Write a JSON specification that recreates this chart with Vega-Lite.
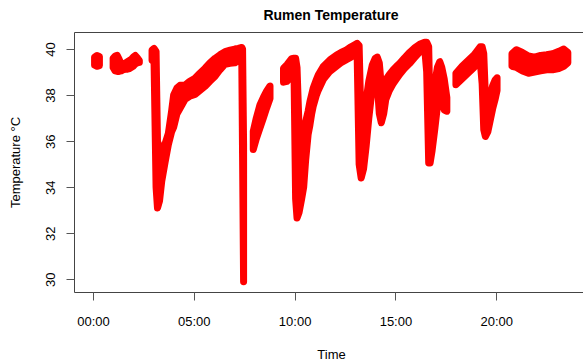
{
  "$schema": "https://vega.github.io/schema/vega-lite/v6.json",
  "width": 514,
  "height": 260,
  "autosize": {"type": "none"},
  "padding": {"left": 74, "top": 32, "right": 0, "bottom": 68},
  "background": "white",
  "title": {"text": "Rumen Temperature", "font": "Liberation Sans", "fontSize": 14, "fontWeight": "bold", "color": "black", "anchor": "middle", "baseline": "alphabetic", "offset": -2, "frame": "group"},
  "config": {
    "view": {"stroke": "#444", "strokeWidth": 1},
    "axis": {"grid": false, "domain": false, "ticks": true, "tickSize": 8, "tickColor": "#555", "labelFont": "Liberation Sans", "labelFontSize": 13, "labelColor": "black", "titleFont": "Liberation Sans", "titleFontSize": 13, "titleFontWeight": "normal", "titleColor": "black", "labelFlush": false, "labelOverlap": false}
  },
  "data": {"values": [
    {"s": 1, "t": 0.08, "lo": 39.3, "hi": 39.65},
    {"s": 1, "t": 0.2, "lo": 39.25, "hi": 39.72},
    {"s": 1, "t": 0.32, "lo": 39.28, "hi": 39.68},
    {"s": 2, "t": 1.0, "lo": 39.2, "hi": 39.6},
    {"s": 2, "t": 1.1, "lo": 39.05, "hi": 39.7},
    {"s": 2, "t": 1.2, "lo": 39.03, "hi": 39.73},
    {"s": 2, "t": 1.3, "lo": 39.03, "hi": 39.55},
    {"s": 2, "t": 1.4, "lo": 39.05, "hi": 39.35},
    {"s": 2, "t": 1.5, "lo": 39.1, "hi": 39.3},
    {"s": 2, "t": 1.6, "lo": 39.12, "hi": 39.38},
    {"s": 2, "t": 1.7, "lo": 39.12, "hi": 39.45},
    {"s": 2, "t": 1.8, "lo": 39.15, "hi": 39.5},
    {"s": 2, "t": 1.9, "lo": 39.2, "hi": 39.55},
    {"s": 2, "t": 2.0, "lo": 39.25, "hi": 39.65},
    {"s": 2, "t": 2.1, "lo": 39.35, "hi": 39.72},
    {"s": 2, "t": 2.2, "lo": 39.4, "hi": 39.62},
    {"s": 2, "t": 2.3, "lo": 39.42, "hi": 39.5},
    {"s": 3, "t": 2.93, "lo": 39.5, "hi": 39.95},
    {"s": 3, "t": 3.03, "lo": 39.45, "hi": 40.03},
    {"s": 3, "t": 3.13, "lo": 34.0, "hi": 39.9},
    {"s": 3, "t": 3.2, "lo": 33.1, "hi": 36.0},
    {"s": 3, "t": 3.3, "lo": 33.4, "hi": 35.7},
    {"s": 3, "t": 3.41, "lo": 34.25, "hi": 35.5},
    {"s": 3, "t": 3.58, "lo": 35.1, "hi": 35.9},
    {"s": 3, "t": 3.74, "lo": 35.85, "hi": 36.34},
    {"s": 3, "t": 3.9, "lo": 36.4, "hi": 37.3},
    {"s": 3, "t": 4.0, "lo": 36.6, "hi": 38.0},
    {"s": 3, "t": 4.16, "lo": 37.17, "hi": 38.3},
    {"s": 3, "t": 4.32, "lo": 37.43, "hi": 38.43},
    {"s": 3, "t": 4.57, "lo": 37.82, "hi": 38.44},
    {"s": 3, "t": 4.8, "lo": 37.95, "hi": 38.6},
    {"s": 3, "t": 5.06, "lo": 38.03, "hi": 38.73},
    {"s": 3, "t": 5.3, "lo": 38.2, "hi": 38.95},
    {"s": 3, "t": 5.56, "lo": 38.38, "hi": 39.17},
    {"s": 3, "t": 5.8, "lo": 38.6, "hi": 39.4},
    {"s": 3, "t": 6.06, "lo": 38.82, "hi": 39.6},
    {"s": 3, "t": 6.3, "lo": 39.1, "hi": 39.75},
    {"s": 3, "t": 6.55, "lo": 39.34, "hi": 39.89},
    {"s": 3, "t": 6.8, "lo": 39.38, "hi": 39.95},
    {"s": 3, "t": 7.04, "lo": 39.4, "hi": 40.0},
    {"s": 3, "t": 7.2, "lo": 39.5, "hi": 40.03},
    {"s": 3, "t": 7.38, "lo": 39.56, "hi": 40.07},
    {"s": 3, "t": 7.42, "lo": 35.3, "hi": 40.0},
    {"s": 3, "t": 7.47, "lo": 29.9, "hi": 35.9},
    {"s": 4, "t": 7.95, "lo": 35.64, "hi": 36.43},
    {"s": 4, "t": 8.1, "lo": 36.1, "hi": 37.0},
    {"s": 4, "t": 8.28, "lo": 36.57, "hi": 37.57},
    {"s": 4, "t": 8.45, "lo": 37.0, "hi": 37.9},
    {"s": 4, "t": 8.61, "lo": 37.43, "hi": 38.17},
    {"s": 4, "t": 8.78, "lo": 37.85, "hi": 38.4},
    {"s": 5, "t": 9.45, "lo": 38.56, "hi": 39.17},
    {"s": 5, "t": 9.62, "lo": 38.6, "hi": 39.32},
    {"s": 5, "t": 9.85, "lo": 38.82, "hi": 39.58},
    {"s": 5, "t": 9.97, "lo": 39.03, "hi": 39.6},
    {"s": 5, "t": 10.05, "lo": 33.5, "hi": 39.6},
    {"s": 5, "t": 10.12, "lo": 32.66, "hi": 39.2},
    {"s": 5, "t": 10.22, "lo": 32.9, "hi": 36.6},
    {"s": 5, "t": 10.35, "lo": 33.5, "hi": 36.6},
    {"s": 5, "t": 10.45, "lo": 34.0, "hi": 36.7},
    {"s": 5, "t": 10.55, "lo": 35.2, "hi": 36.85},
    {"s": 5, "t": 10.67, "lo": 36.28, "hi": 37.3},
    {"s": 5, "t": 10.76, "lo": 36.7, "hi": 37.72},
    {"s": 5, "t": 10.84, "lo": 37.15, "hi": 38.0},
    {"s": 5, "t": 10.92, "lo": 37.5, "hi": 38.3},
    {"s": 5, "t": 11.09, "lo": 38.02, "hi": 38.7},
    {"s": 5, "t": 11.17, "lo": 38.2, "hi": 38.87},
    {"s": 5, "t": 11.42, "lo": 38.67, "hi": 39.24},
    {"s": 5, "t": 11.75, "lo": 39.03, "hi": 39.53},
    {"s": 5, "t": 12.08, "lo": 39.25, "hi": 39.74},
    {"s": 5, "t": 12.3, "lo": 39.4, "hi": 39.85},
    {"s": 5, "t": 12.57, "lo": 39.54, "hi": 39.96},
    {"s": 5, "t": 12.8, "lo": 39.65, "hi": 40.1},
    {"s": 5, "t": 13.0, "lo": 39.76, "hi": 40.2},
    {"s": 5, "t": 13.1, "lo": 39.8, "hi": 40.25},
    {"s": 5, "t": 13.2, "lo": 35.0, "hi": 40.15},
    {"s": 5, "t": 13.3, "lo": 34.4, "hi": 36.5},
    {"s": 5, "t": 13.42, "lo": 34.8, "hi": 36.8},
    {"s": 5, "t": 13.55, "lo": 35.8, "hi": 37.8},
    {"s": 5, "t": 13.68, "lo": 37.0, "hi": 38.6},
    {"s": 5, "t": 13.85, "lo": 38.3, "hi": 39.3},
    {"s": 5, "t": 14.0, "lo": 38.9, "hi": 39.6},
    {"s": 5, "t": 14.1, "lo": 38.5, "hi": 39.65},
    {"s": 5, "t": 14.2, "lo": 37.2, "hi": 39.4},
    {"s": 5, "t": 14.3, "lo": 36.8, "hi": 38.4},
    {"s": 5, "t": 14.42, "lo": 37.2, "hi": 38.5},
    {"s": 5, "t": 14.52, "lo": 37.8, "hi": 38.67},
    {"s": 5, "t": 14.7, "lo": 38.2, "hi": 38.9},
    {"s": 5, "t": 14.87, "lo": 38.47, "hi": 39.08},
    {"s": 5, "t": 15.05, "lo": 38.7, "hi": 39.25},
    {"s": 5, "t": 15.21, "lo": 38.9, "hi": 39.38},
    {"s": 5, "t": 15.45, "lo": 39.15, "hi": 39.62},
    {"s": 5, "t": 15.71, "lo": 39.38, "hi": 39.86},
    {"s": 5, "t": 15.95, "lo": 39.62, "hi": 40.05},
    {"s": 5, "t": 16.2, "lo": 39.86, "hi": 40.21},
    {"s": 5, "t": 16.45, "lo": 40.03, "hi": 40.3},
    {"s": 5, "t": 16.55, "lo": 39.0, "hi": 40.3},
    {"s": 5, "t": 16.65, "lo": 35.05, "hi": 40.1},
    {"s": 5, "t": 16.72, "lo": 35.05, "hi": 37.0},
    {"s": 5, "t": 16.82, "lo": 35.6, "hi": 37.5},
    {"s": 5, "t": 16.95, "lo": 36.5, "hi": 38.5},
    {"s": 5, "t": 17.08, "lo": 37.5, "hi": 39.2},
    {"s": 5, "t": 17.2, "lo": 38.3, "hi": 39.45},
    {"s": 5, "t": 17.3, "lo": 37.8, "hi": 39.2},
    {"s": 5, "t": 17.42, "lo": 37.35, "hi": 38.7},
    {"s": 5, "t": 17.55, "lo": 37.3, "hi": 37.9},
    {"s": 6, "t": 18.0, "lo": 38.45, "hi": 38.95},
    {"s": 6, "t": 18.3, "lo": 38.7, "hi": 39.25},
    {"s": 6, "t": 18.6, "lo": 38.95, "hi": 39.5},
    {"s": 6, "t": 18.9, "lo": 39.2, "hi": 39.75},
    {"s": 6, "t": 19.2, "lo": 39.5, "hi": 40.1},
    {"s": 6, "t": 19.3, "lo": 38.5, "hi": 40.1},
    {"s": 6, "t": 19.38, "lo": 36.5, "hi": 39.8},
    {"s": 6, "t": 19.46, "lo": 36.2, "hi": 38.0},
    {"s": 6, "t": 19.58, "lo": 36.4, "hi": 37.6},
    {"s": 6, "t": 19.7, "lo": 36.9, "hi": 38.0},
    {"s": 6, "t": 19.82, "lo": 37.4, "hi": 38.4},
    {"s": 6, "t": 19.94, "lo": 37.8, "hi": 38.65},
    {"s": 6, "t": 20.04, "lo": 38.2, "hi": 38.75},
    {"s": 7, "t": 20.78, "lo": 39.25, "hi": 39.8},
    {"s": 7, "t": 21.0, "lo": 39.2, "hi": 39.97},
    {"s": 7, "t": 21.3, "lo": 39.05, "hi": 39.85},
    {"s": 7, "t": 21.6, "lo": 38.95, "hi": 39.7},
    {"s": 7, "t": 21.9, "lo": 39.0, "hi": 39.65},
    {"s": 7, "t": 22.2, "lo": 39.05, "hi": 39.72},
    {"s": 7, "t": 22.5, "lo": 39.1, "hi": 39.75},
    {"s": 7, "t": 22.8, "lo": 39.1, "hi": 39.8},
    {"s": 7, "t": 23.1, "lo": 39.15, "hi": 39.9},
    {"s": 7, "t": 23.35, "lo": 39.25, "hi": 40.0},
    {"s": 7, "t": 23.55, "lo": 39.4, "hi": 39.85}
  ]},
  "mark": {"type": "area", "fill": "#FF0000", "stroke": "#FF0000", "strokeWidth": 7, "strokeJoin": "round", "strokeCap": "round", "opacity": 1},
  "encoding": {
    "x": {"field": "t", "type": "quantitative", "scale": {"domain": [-0.94, 24.55], "nice": false, "zero": false},
      "axis": {"values": [0, 5, 10, 15, 20], "labelExpr": "(datum.value < 10 ? '0' : '') + datum.value + ':00'", "title": "Time", "labelPadding": 15, "titleY": 66, "titleBaseline": "alphabetic"}},
    "y": {"field": "lo", "type": "quantitative", "scale": {"domain": [29.45, 40.74], "nice": false, "zero": false},
      "axis": {"values": [30, 32, 34, 36, 38, 40], "title": "Temperature °C", "labelAngle": -90, "labelAlign": "center", "labelBaseline": "alphabetic", "labelPadding": 11.3, "titleX": -54.5, "titleY": 130, "titleAngle": -90, "titleAlign": "center", "titleBaseline": "alphabetic"}},
    "y2": {"field": "hi"},
    "detail": {"field": "s", "type": "nominal"}
  }
}
